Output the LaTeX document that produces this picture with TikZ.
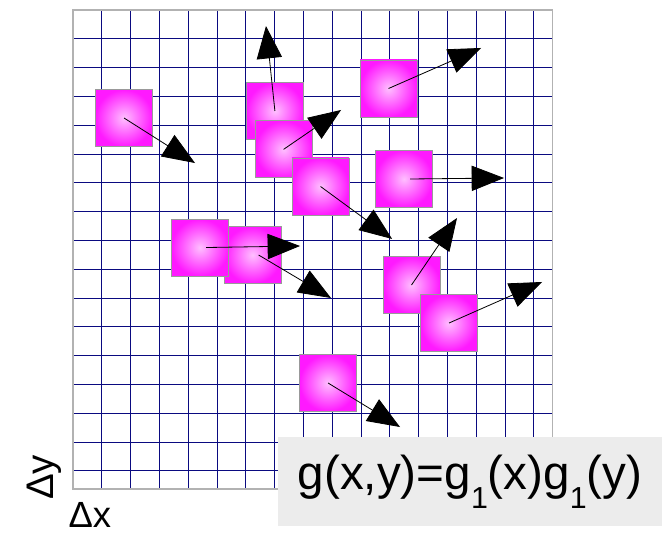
\documentclass[tikz,border=0pt]{standalone}
\usepackage{fontspec}
\setmainfont{Liberation Sans}
\usetikzlibrary{arrows.meta}
\definecolor{grille}{RGB}{10,10,128}
\definecolor{fond}{RGB}{236,236,236}

\begin{document}
\begin{tikzpicture}
\tikzstyle{carre} = [rectangle,draw=gray!80,line width=0.8pt,minimum size=1.98cm,inner sep=0pt,inner color=magenta!25!white,outer color=magenta!90!white];
\tikzstyle{fleche} = [-{Triangle[length=32pt,width=25pt]},line width=0.8pt,black];

\useasboundingbox (-2.535,0.347) rectangle (20.45,-18.229);

\draw[grille,line width=0.9pt] (0,0) grid (16.65,-16.63);
\draw[gray!60,line width=1.5pt] (0,0) rectangle (16.65,-16.63);

\foreach \n/\x/\y in {1/1.771/-3.75,2/7.01/-3.507,3/7.31/-4.84,6/8.594/-6.128,4/10.955/-2.726,5/11.49/-5.868,8/6.233/-8.507,7/4.41/-8.247,9/11.753/-9.549,10/13.056/-10.868,11/8.854/-12.95}{
	\node[carre] (c\n) at (\x,\y) {};
}

\foreach \n/\d/\u/\v in {1/0/4.236/-5.313,2/0/6.70/-0.556,3/0/9.306/-3.472,4/0/14.167/-1.319,5/6/14.965/-5.833,6/0/11.08/-7.95,7/6/7.882/-8.194,8/6/8.958/-10.0,9/0/13.333/-7.222,10/0/16.285/-9.444,11/0/11.354/-14.479}{
	\coordinate (t\n) at (\u,\v);
	\draw[fleche] ([xshift=\d pt]c\n.center) -- (t\n);
}

\node[fill=fond,minimum width=13.33cm,minimum height=3.09cm,inner sep=0pt,font=\fontsize{47}{50}\selectfont] (formule) at (13.785,-16.372) {g(x,y)=g\raisebox{-19pt}{\fontsize{30}{32}\selectfont 1}(x)g\raisebox{-19pt}{\fontsize{30}{32}\selectfont 1}(y)};

\node[anchor=base west,inner sep=0pt,font=\fontsize{36}{40}\selectfont] (dx) at (-0.16,-17.98) {Δx};
\node[rotate=90,anchor=base west,inner sep=0pt,font=\fontsize{38}{40}\selectfont] (dy) at (-0.694,-17.01) {Δy};

\end{tikzpicture}
\end{document}
